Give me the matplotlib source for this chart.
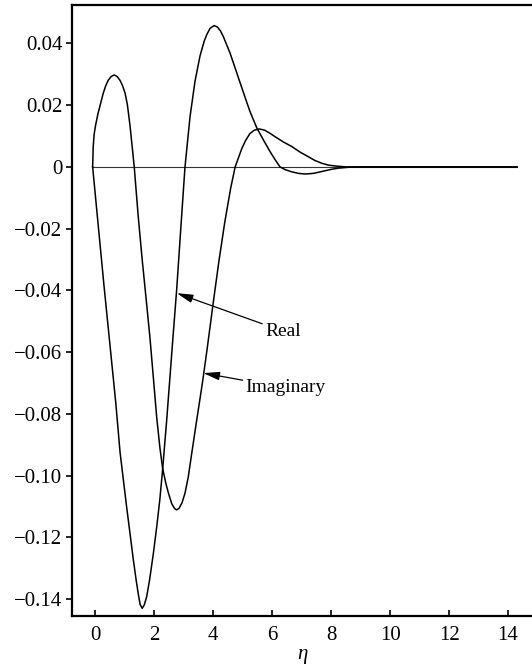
import matplotlib
matplotlib.use("Agg")
import matplotlib.pyplot as plt

plt.rcParams['font.family'] = ['Liberation Serif', 'DejaVu Serif']

# Real part
eta_real = [-0.08, 0.1, 0.3, 0.5, 0.7, 0.85, 1.07, 1.3, 1.4, 1.47, 1.53, 1.6, 1.67,
            1.75, 1.85, 1.98, 2.1, 2.2, 2.29, 2.43, 2.64, 2.77, 2.9, 3.05, 3.22, 3.39,
            3.56, 3.7, 3.79, 3.9, 4.04, 4.15, 4.25, 4.35, 4.58, 4.8, 5.03, 5.25, 5.48,
            5.71, 5.93, 6.1, 6.27, 6.45, 6.67, 6.9, 7.12, 7.4, 7.68, 8.0, 8.25, 8.6,
            9.0, 14.3]
real = [0.0, -0.018, -0.038, -0.057, -0.076, -0.0925, -0.110, -0.1273, -0.1342,
        -0.1385, -0.1418, -0.1430, -0.1419, -0.1393, -0.1338, -0.1251, -0.1160,
        -0.1075, -0.0982, -0.0820, -0.0555, -0.0395, -0.0210, 0.0, 0.0162, 0.0278,
        0.0360, 0.0407, 0.0429, 0.0449, 0.0458, 0.0453, 0.0441, 0.0422, 0.0368,
        0.0306, 0.0241, 0.0180, 0.0127, 0.0087, 0.0050, 0.0024, 0.0, -0.0009,
        -0.0016, -0.0021, -0.0023, -0.0021, -0.0015, -0.0008, -0.0004, -0.0001,
        0.0, 0.0]

# Imaginary part
eta_imag = [-0.08, -0.06, -0.03, 0.02, 0.1, 0.17, 0.28, 0.36, 0.45, 0.55, 0.65, 0.75,
            0.85, 0.93, 1.02, 1.1, 1.19, 1.33, 1.46, 1.6, 1.73, 1.86, 1.98, 2.09,
            2.2, 2.29, 2.4, 2.49, 2.6, 2.7, 2.77, 2.85, 2.95, 3.05, 3.16, 3.28, 3.4,
            3.52, 3.64, 3.8, 4.0, 4.2, 4.4, 4.6, 4.75, 4.97, 5.1, 5.25, 5.4, 5.57,
            5.75, 5.93, 6.1, 6.4, 6.67, 6.95, 7.23, 7.45, 7.68, 7.9, 8.14, 8.5,
            14.3]
imag = [0.0, 0.0066, 0.0105, 0.0135, 0.0172, 0.0198, 0.0239, 0.0262, 0.0281,
        0.0293, 0.0298, 0.0293, 0.0280, 0.0264, 0.0239, 0.0200, 0.0131, 0.0,
        -0.0155, -0.0301, -0.0425, -0.0551, -0.0685, -0.0810, -0.0910, -0.0975,
        -0.1025, -0.1057, -0.1091, -0.1107, -0.1111, -0.1106, -0.1088, -0.1057,
        -0.1005, -0.0927, -0.0850, -0.0775, -0.0700, -0.0590, -0.0445, -0.0305,
        -0.0178, -0.0068, 0.0, 0.0058, 0.0085, 0.0108, 0.0119, 0.0123, 0.0119,
        0.0109, 0.0098, 0.0080, 0.0066, 0.0048, 0.0033, 0.0021, 0.0012, 0.0006,
        0.0003, 0.0, 0.0]

xticks = [0, 2, 4, 6, 8, 10, 12, 14]
yticks = [0.04, 0.02, 0.0, -0.02, -0.04, -0.06, -0.08, -0.10, -0.12, -0.14]
ylabels = ['0.04', '0.02', '0', '\u22120.02', '\u22120.04', '\u22120.06', '\u22120.08',
           '\u22120.10', '\u22120.12', '\u22120.14']

fig = plt.figure(figsize=(5.32, 6.68), dpi=100)
ax = fig.add_axes([0.1353, 0.0778, 0.8647, 0.914])

ax.plot([-0.08, 14.3], [0, 0], color='#333333', lw=0.8)
ax.plot(eta_real, real, color='k', lw=1.1)
ax.plot(eta_imag, imag, color='k', lw=1.1)

ax.set_xlim(-0.78, 14.81)
ax.set_ylim(-0.1455, 0.0523)

ax.spines['right'].set_visible(False)
for s in ['left', 'bottom', 'top']:
    ax.spines[s].set_linewidth(1.6)

ax.set_xticks(xticks)
ax.set_xticklabels([str(t) for t in xticks])
ax.set_yticks(yticks)
ax.set_yticklabels(ylabels)
ax.tick_params(axis='x', direction='in', length=4, width=1.2, pad=7, labelsize=15)
ax.tick_params(axis='y', direction='out', length=4, width=1.2, pad=3, labelsize=15)
ax.set_xlabel('\u03b7', fontsize=15, style='italic', labelpad=0)

arrow = dict(arrowstyle='-|>,head_length=0.7,head_width=0.18', color='k', lw=0.9,
             shrinkA=0, shrinkB=0)
ax.annotate('Real', xy=(2.77, -0.0409), xytext=(5.76, -0.0532),
            fontsize=14, ha='left', va='center', arrowprops=arrow)
ax.annotate('Imaginary', xy=(3.67, -0.0668), xytext=(5.1, -0.0716),
            fontsize=14, ha='left', va='center', arrowprops=arrow)

fig.savefig('out.png', dpi=100)
